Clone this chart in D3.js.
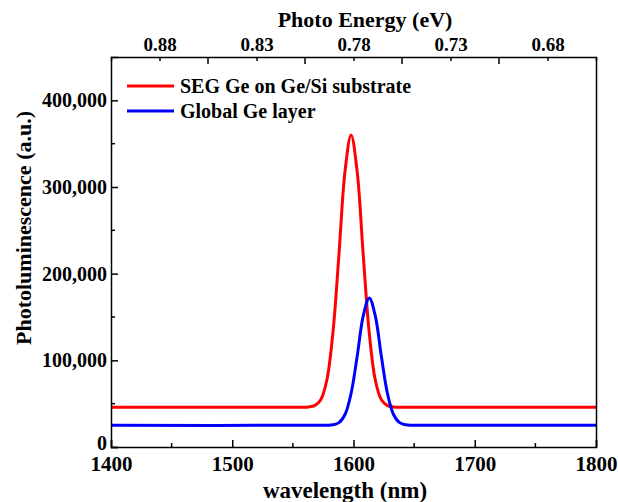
<!DOCTYPE html>
<html>
<head>
<meta charset="utf-8">
<script src="https://cdn.jsdelivr.net/npm/d3@7"></script>
<style>
  body { margin: 0; background: #fff; }
  svg text { font-family: "Liberation Serif", "Times New Roman", serif; font-weight: bold; fill: #000; }
</style>
</head>
<body>
<div id="chart"></div>
<script>
// series
const seriesNames = ['SEG Ge on Ge/Si substrate', 'Global Ge layer'];
const redWavelength = [1400, 1550, 1563, 1568, 1573, 1578, 1583, 1588, 1593, 1598, 1603, 1608, 1613, 1618, 1623, 1628, 1633, 1645, 1800];
const redIntensity = [46000, 46000, 46200, 47700, 54500, 77000, 131500, 222000, 318000, 360000, 318000, 222000, 131500, 77000, 54500, 47700, 46200, 46000, 46000];
const blueWavelength = [1400, 1570, 1578, 1583, 1588, 1593, 1598, 1603, 1608, 1613, 1618, 1623, 1628, 1633, 1638, 1643, 1648, 1660, 1800];
const blueIntensity = [25000, 25000, 25100, 25600, 28100, 37500, 61700, 104300, 151000, 172000, 151000, 104300, 61700, 37500, 28100, 25600, 25100, 25000, 25000];

// tick labels
const bottomTicks = [1400, 1500, 1600, 1700, 1800];
const bottomMinor = [1450, 1550, 1650, 1750];
const leftTicks = [0, 100000, 200000, 300000, 400000];
const leftMinor = [50000, 150000, 250000, 350000];
const topLabelPos = [1440, 1520, 1600, 1680, 1760];
const topLabels = ['0.88', '0.83', '0.78', '0.73', '0.68'];
const topMajorPos = [1480, 1560, 1640, 1720];

const W = 618, H = 502;
const margin = { top: 57, right: 22, bottom: 55, left: 111 };
const width = W - margin.left - margin.right;
const height = H - margin.top - margin.bottom;

const svg = d3.select('#chart').append('svg')
  .attr('width', W)
  .attr('height', H);

const g = svg.append('g')
  .attr('transform', `translate(${margin.left},${margin.top})`);

const x = d3.scaleLinear().domain([1400, 1800]).range([0, width]);
const y = d3.scaleLinear().domain([0, 450000]).range([height, 0]);

// lines first, frame on top
const line = d3.line()
  .x(d => x(d[0]))
  .y(d => y(d[1]))
  .curve(d3.curveCatmullRom);

const redData = redWavelength.map((w, i) => [w, redIntensity[i]]);
const blueData = blueWavelength.map((w, i) => [w, blueIntensity[i]]);

g.append('path').datum(redData)
  .attr('d', line).attr('fill', 'none')
  .attr('stroke', '#ff0000').attr('stroke-width', 3);
g.append('path').datum(blueData)
  .attr('d', line).attr('fill', 'none')
  .attr('stroke', '#0000ff').attr('stroke-width', 3);

// axes, ticks drawn inward
const bottomAxis = g.append('g').attr('transform', `translate(0,${height})`)
  .call(d3.axisBottom(x).tickValues(bottomTicks).tickSize(-7).tickPadding(9).tickFormat(d3.format('d')));
bottomAxis.append('g').selectAll('line').data(bottomMinor).join('line')
  .attr('x1', d => x(d)).attr('x2', d => x(d)).attr('y1', 0).attr('y2', -4)
  .attr('stroke', '#000').attr('stroke-width', 1.5);
bottomAxis.selectAll('text').style('font-size', '21px').attr('dy', '0.71em');

const leftAxis = g.append('g')
  .call(d3.axisLeft(y).tickValues(leftTicks).tickSize(-7).tickPadding(4).tickFormat(d3.format(',')));
leftAxis.append('g').selectAll('line').data(leftMinor).join('line')
  .attr('x1', 0).attr('x2', 4).attr('y1', d => y(d)).attr('y2', d => y(d))
  .attr('stroke', '#000').attr('stroke-width', 1.5);
leftAxis.selectAll('text').style('font-size', '20px');
// the zero label sits a little higher so it clears 1400
leftAxis.selectAll('.tick text').filter(d => d === 0).attr('dy', '0.1em');

const topAxis = g.append('g')
  .call(d3.axisTop(x).tickValues(topLabelPos).tickSize(-4).tickPadding(6)
    .tickFormat((d, i) => topLabels[i]));
topAxis.append('g').selectAll('line').data(topMajorPos).join('line')
  .attr('x1', d => x(d)).attr('x2', d => x(d)).attr('y1', 0).attr('y2', 7)
  .attr('stroke', '#000').attr('stroke-width', 1.5);
topAxis.selectAll('text').style('font-size', '19px');

const rightAxis = g.append('g').attr('transform', `translate(${width},0)`)
  .call(d3.axisRight(y).tickValues([]).tickSize(0));

[bottomAxis, leftAxis, topAxis, rightAxis].forEach(a => {
  a.select('.domain').attr('stroke-width', 1.5);
  a.selectAll('.tick line').attr('stroke-width', 1.5);
});

// titles
svg.append('text')
  .attr('x', 345).attr('y', 498)
  .attr('text-anchor', 'middle')
  .style('font-size', '23px')
  .text('wavelength (nm)');

svg.append('text')
  .attr('x', 365).attr('y', 27)
  .attr('text-anchor', 'middle')
  .style('font-size', '22px')
  .text('Photo Energy (eV)');

svg.append('text')
  .attr('transform', 'translate(31,228) rotate(-90)')
  .attr('text-anchor', 'middle')
  .style('font-size', '22px')
  .text('Photoluminescence (a.u.)');

// legend
const legendColors = ['#ff0000', '#0000ff'];
const legend = svg.append('g');
seriesNames.forEach((name, i) => {
  const ly = 86 + i * 25;
  legend.append('line')
    .attr('x1', 127).attr('x2', 174).attr('y1', ly).attr('y2', ly)
    .attr('stroke', legendColors[i]).attr('stroke-width', 3);
  legend.append('text')
    .attr('x', 180).attr('y', ly + 7)
    .style('font-size', '20px')
    .text(name);
});
</script>
</body>
</html>
